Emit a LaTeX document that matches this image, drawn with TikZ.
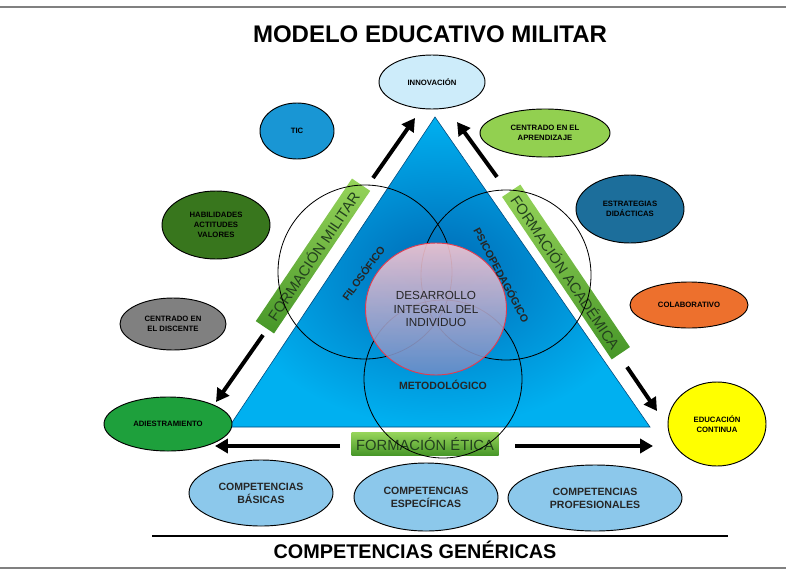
\documentclass[tikz,border=0pt]{standalone}
\usepackage{fontspec}
\setmainfont{Liberation Sans}
\usepackage{xcolor}
\usepackage{tikz}
\usetikzlibrary{shapes.geometric, arrows.meta, positioning}
\definecolor{skyedge}{RGB}{0,176,240}
\definecolor{skycore}{RGB}{0,105,180}
\definecolor{bandlight}{RGB}{150,212,90}
\definecolor{banddark}{RGB}{70,150,40}
\definecolor{bandtext}{RGB}{35,65,30}
\definecolor{compblue}{RGB}{140,200,235}
\definecolor{corerim}{RGB}{225,60,80}
\definecolor{coretop}{RGB}{255,200,210}
\definecolor{corebottom}{RGB}{105,140,200}
\definecolor{innovafill}{RGB}{205,236,250}
\definecolor{ticfill}{RGB}{25,150,212}
\definecolor{aprendefill}{RGB}{146,208,80}
\definecolor{habilfill}{RGB}{56,118,29}
\definecolor{estratfill}{RGB}{28,110,155}
\definecolor{discentefill}{RGB}{128,128,128}
\definecolor{colabfill}{RGB}{237,112,45}
\definecolor{adiestrafill}{RGB}{30,160,60}
\definecolor{continuafill}{RGB}{255,255,0}
\tikzset{
    bubble/.style={ellipse, draw=black, line width=0.8pt, fill=#1, inner sep=0pt, align=center, font=\fontsize{6.6}{8.5}\selectfont\bfseries},
    dims/.style 2 args={minimum width=#1*0.6mm, minimum height=#2*0.6mm},
    comp/.style={bubble=compblue, text=black!85, font=\fontsize{9}{11}\selectfont\bfseries},
    band/.style={rectangle, top color=bandlight, bottom color=banddark, inner sep=0pt, text=bandtext, font=\fontsize{12.6}{14}\selectfont},
    ring/.style={circle, draw=black, line width=0.7pt, minimum size=#1*0.3mm, inner sep=0pt},
    axis/.style={font=\fontsize{9}{10}\selectfont\bfseries, text=black!85},
    push/.style={-{Triangle[length=11pt,width=12pt]}, line width=3.4pt}
}

\begin{document}
\begin{tikzpicture}[x=0.3mm, y=-0.3mm]
            \useasboundingbox (0,0) rectangle (786,570);
            % Frame lines
            \draw[gray, line width=1.2pt] (0,7) -- (786,7);
            \draw[gray, line width=1.2pt] (0,568) -- (786,568);
            \node[font=\fontsize{20.5}{24}\selectfont\bfseries] (title) at (430,34) {MODELO EDUCATIVO MILITAR};

            % Triangle
            \coordinate (apex) at (435,117);
            \coordinate (baseL) at (229,427);
            \coordinate (baseR) at (650,427);
            \draw[draw=skycore!70!black, line width=0.5pt, inner color=skycore, outer color=skyedge] (apex) -- (baseR) -- (baseL) -- cycle;

            % Bands along the sides
            \node[band, rotate=56, minimum width=172*0.3mm, minimum height=22*0.3mm] (militar) at (313,256) {FORMACIÓN MILITAR};
            \node[band, rotate=-56, minimum width=196*0.3mm, minimum height=22*0.3mm] (academica) at (566,272) {FORMACIÓN ACADÉMICA};
            \node[band, minimum width=147*0.3mm, minimum height=23*0.3mm] (etica) at (425,444) {FORMACIÓN ÉTICA};

            % Three circles and the core
            \node[ring=174] (filo) at (365,272) {};
            \node[ring=170] (psico) at (506,275) {};
            \node[ring=158] (meto) at (443,379) {};
            \node[ellipse, draw=corerim, line width=0.8pt, top color=coretop, bottom color=corebottom, fill opacity=0.88, text opacity=1, minimum width=141*0.3mm, minimum height=132*0.3mm, inner sep=0pt, align=center, font=\fontsize{10}{11.5}\selectfont, text=black!85] (core) at (436,309) {DESARROLLO\\INTEGRAL DEL\\INDIVIDUO};
            \node[axis, rotate=54] (filolabel) at (363,273) {FILOSÓFICO};
            \node[axis, rotate=-62] (psicolabel) at (502,275) {PSICOPEDAGÓGICO};
            \node[axis] (metolabel) at (443,385) {METODOLÓGICO};

            % Ellipses around the triangle
            \node[bubble=innovafill, dims={53}{27}] (innova) at (432,82) {INNOVACIÓN};
            \node[bubble=ticfill, dims={37}{28}] (tic) at (297,131) {TIC};
            \node[bubble=aprendefill, dims={65}{24}] (aprende) at (545,133) {CENTRADO EN EL\\APRENDIZAJE};
            \node[bubble=habilfill, dims={54}{34}] (habil) at (216,225) {HABILIDADES\\ACTITUDES\\VALORES};
            \node[bubble=estratfill, dims={54}{34}] (estrat) at (630,209) {ESTRATEGIAS\\DIDÁCTICAS};
            \node[bubble=discentefill, dims={53}{26}] (discente) at (173,324) {CENTRADO EN\\EL DISCENTE};
            \node[bubble=colabfill, dims={59}{23}] (colab) at (689,305) {COLABORATIVO};
            \node[bubble=adiestrafill, dims={64}{27}] (adiestra) at (168,424) {ADIESTRAMIENTO};
            \node[bubble=continuafill, dims={49}{42}] (continua) at (717,424) {EDUCACIÓN\\CONTINUA};

            % Competencias
            \node[comp, dims={72}{33}] (basicas) at (261,493) {COMPETENCIAS\\BÁSICAS};
            \node[comp, dims={72}{34}] (especificas) at (426,497) {COMPETENCIAS\\ESPECÍFICAS};
            \node[comp, dims={87}{33}] (profes) at (595,498) {COMPETENCIAS\\PROFESIONALES};
            \coordinate (baseline1) at (152,536);
            \coordinate (baseline2) at (728,536);
            \draw[line width=2.5pt] (baseline1) -- (baseline2);
            \node[font=\fontsize{16.9}{20}\selectfont\bfseries] (generic) at (415,550) {COMPETENCIAS GENÉRICAS};

            % Arrows
            \coordinate (t1) at (373,178); \coordinate (h1) at (415,118);
            \coordinate (t2) at (497,177); \coordinate (h2) at (457,122);
            \coordinate (t3) at (263,335); \coordinate (h3) at (216,402);
            \coordinate (t4) at (627,367); \coordinate (h4) at (657,411);
            \coordinate (t5) at (340,446); \coordinate (h5) at (215,446);
            \coordinate (t6) at (515,446); \coordinate (h6) at (653,446);
            \draw[push] (t1) -- (h1);
            \draw[push] (t2) -- (h2);
            \draw[push] (t3) -- (h3);
            \draw[push] (t4) -- (h4);
            \draw[push] (t5) -- (h5);
            \draw[push] (t6) -- (h6);
        \end{tikzpicture}
\end{document}
